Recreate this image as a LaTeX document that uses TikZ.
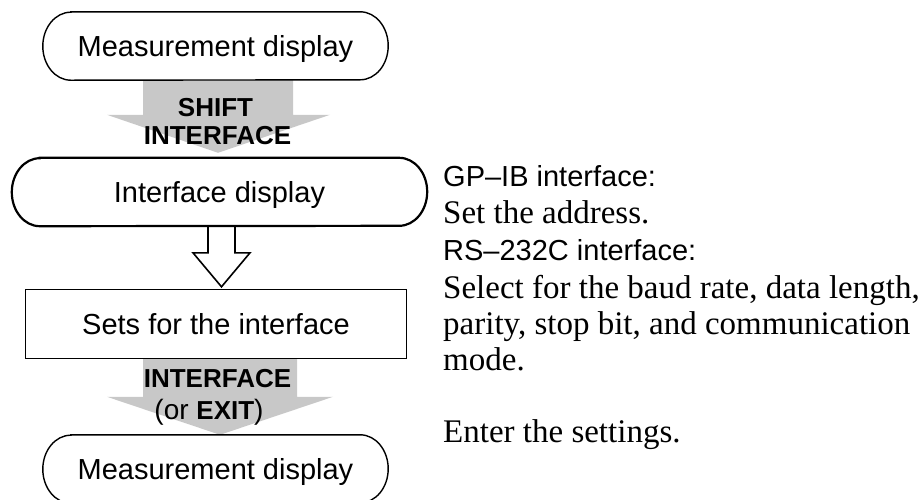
\documentclass[tikz,border=0pt]{standalone}
\usepackage{fontspec}
\setmainfont{Liberation Serif}
\setsansfont{Liberation Sans}
\usetikzlibrary{calc}
\definecolor{arrowgray}{RGB}{200,200,200}
\newcommand\termoutline[2]{%
  ([xshift=#2]#1.north west) -- ([xshift=-#2]#1.north east)
  arc[start angle=90,end angle=-90,x radius=#2,y radius=34pt]
  -- ([xshift=#2]#1.south west)
  arc[start angle=270,end angle=90,x radius=#2,y radius=34pt] -- cycle}
\begin{document}
\begin{tikzpicture}[x=1pt,y=-1pt,
  boxtext/.style={font=\sffamily\fontsize{29}{32}\selectfont, inner sep=0pt,
     text height=20.8pt, text depth=0pt, minimum height=68pt},
  graytext/.style={font=\sffamily\bfseries\fontsize{26}{28}\selectfont, inner sep=0pt, anchor=base},
  serifline/.style={font=\fontsize{33}{36}\selectfont, inner sep=0pt, anchor=base west},
  sansline/.style={font=\sffamily\fontsize{29}{32}\selectfont, inner sep=0pt, anchor=base west},
  grayarrow/.style={fill=arrowgray, draw=none},
  hollowarrow/.style={draw=black, fill=white, line width=1.6pt, line join=miter},
]
\useasboundingbox (0,0) rectangle (918,499);

% nodes
\node[boxtext, minimum width=345pt] (m1) at (215.5,46) {Measurement display};
\node[boxtext, minimum width=415pt] (id) at (219.5,192) {Interface display};
\node[boxtext, minimum width=380pt] (set) at (216,324) {Sets for the interface};
\node[boxtext, minimum width=345pt] (m2) at (215.5,469) {Measurement display};

% gray arrow 1
\coordinate (a1top) at ($(m1.south)+(2.5,0)$);
\coordinate (a1tip) at ($(id.north)+(-1.5,-5)$);
\fill[grayarrow] ($(a1top)+(-75,0)$) -- ($(a1top)+(75,0)$) -- ($(a1tip)+(75,-38)$)
  -- ($(a1tip)+(112,-38)$) -- (a1tip) -- ($(a1tip)+(-111,-38)$) -- ($(a1tip)+(-75,-38)$) -- cycle;
\node[graytext] (shift) at ($(a1tip)+(-2.5,-36)$) {SHIFT};
\node[graytext] (if1) at ($(a1tip)+(-0.5,-8)$) {INTERFACE};

% gray arrow 2
\coordinate (a2top) at ($(set.south)+(4,0)$);
\coordinate (a2tip) at ($(m2.north)+(4.5,0)$);
\fill[grayarrow] ($(a2top)+(-77,0)$) -- ($(a2top)+(77,0)$) -- ($(a2tip)+(77,-38)$)
  -- ($(a2tip)+(113,-38)$) -- (a2tip) -- ($(a2tip)+(-113,-38)$) -- ($(a2tip)+(-77,-38)$) -- cycle;
\node[graytext] (if2) at ($(a2tip)+(-2.5,-47)$) {INTERFACE};
\node[graytext] (exit) at ($(a2tip)+(-11,-15)$) {{\mdseries\fontsize{28}{30}\selectfont(or }EXIT{\mdseries\fontsize{28}{30}\selectfont)}};

% hollow arrow
\coordinate (h1top) at ($(id.south)+(2,0)$);
\coordinate (h1tip) at ($(set.north)+(5.5,-3)$);
\filldraw[hollowarrow] ($(h1top)+(-13.5,0)$) -- ($(h1tip)+(-13.5,-34)$) -- ($(h1tip)+(-28.5,-34)$)
  -- (h1tip) -- ($(h1tip)+(28.5,-34)$) -- ($(h1tip)+(13.5,-34)$) -- ($(h1top)+(13.5,0)$);

% outlines
\draw[line width=1.4pt] \termoutline{m1}{28pt};
\draw[line width=2.2pt] \termoutline{id}{28pt};
\draw[line width=1.2pt] (set.north west) rectangle (set.south east);
\draw[line width=1.4pt] \termoutline{m2}{28pt};

% right-hand text
\node[sansline] (t1) at (443,186) {GP–IB interface:};
\node[serifline] (t2) at (443,223) {Set the address.};
\node[sansline] (t3) at (443,260) {RS–232C interface:};
\node[serifline] (t4) at (443,298) {Select for the baud rate, data length,};
\node[serifline] (t5) at (443,334) {parity, stop bit, and communication};
\node[serifline] (t6) at (443,370) {mode.};
\node[serifline] (t7) at (443,442) {Enter the settings.};
\end{tikzpicture}
\end{document}
